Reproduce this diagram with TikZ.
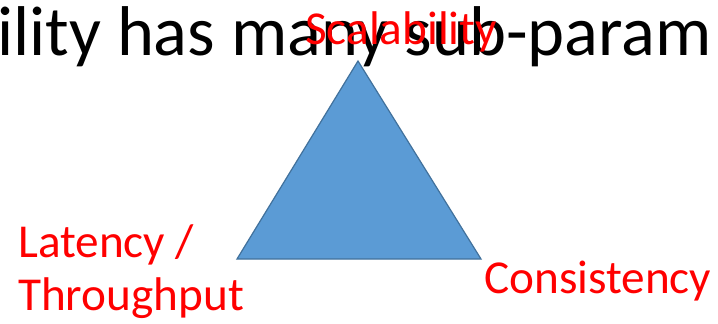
\documentclass[tikz,border=0pt]{standalone}
\usepackage{fontspec}
\setmainfont{Carlito}
\usetikzlibrary{positioning}
\definecolor{TriFill}{RGB}{91,155,213}
\definecolor{TriEdge}{RGB}{65,113,156}
\definecolor{LabelRed}{RGB}{255,0,0}

\begin{document}
\begin{tikzpicture}[x=1bp,y=-1bp,font=\fontsize{47.4}{53.2}\selectfont,
    lbl/.style={LabelRed,inner sep=0pt,anchor=base west,align=left}]
    \useasboundingbox (0,0) rectangle (718,323);
    \coordinate (apex) at (358,61);
    \coordinate (lcorner) at (237,259);
    \coordinate (rcorner) at (481,259);
    \filldraw[fill=TriFill,draw=TriEdge,line width=1.2bp,line join=miter] (apex) -- (lcorner) -- (rcorner) -- cycle;
    \node[inner sep=0pt,anchor=base west,font=\fontsize{70.7}{80}\selectfont] (title) at (-3,55) {ility has many sub-param};
    \node[lbl] (scal) at (305,44) {Scalability};
    \node[lbl] (lat) at (18,310) {Latency /\\Throughput};
    \node[lbl] (cons) at (484,293) {Consistency};
\end{tikzpicture}
\end{document}
